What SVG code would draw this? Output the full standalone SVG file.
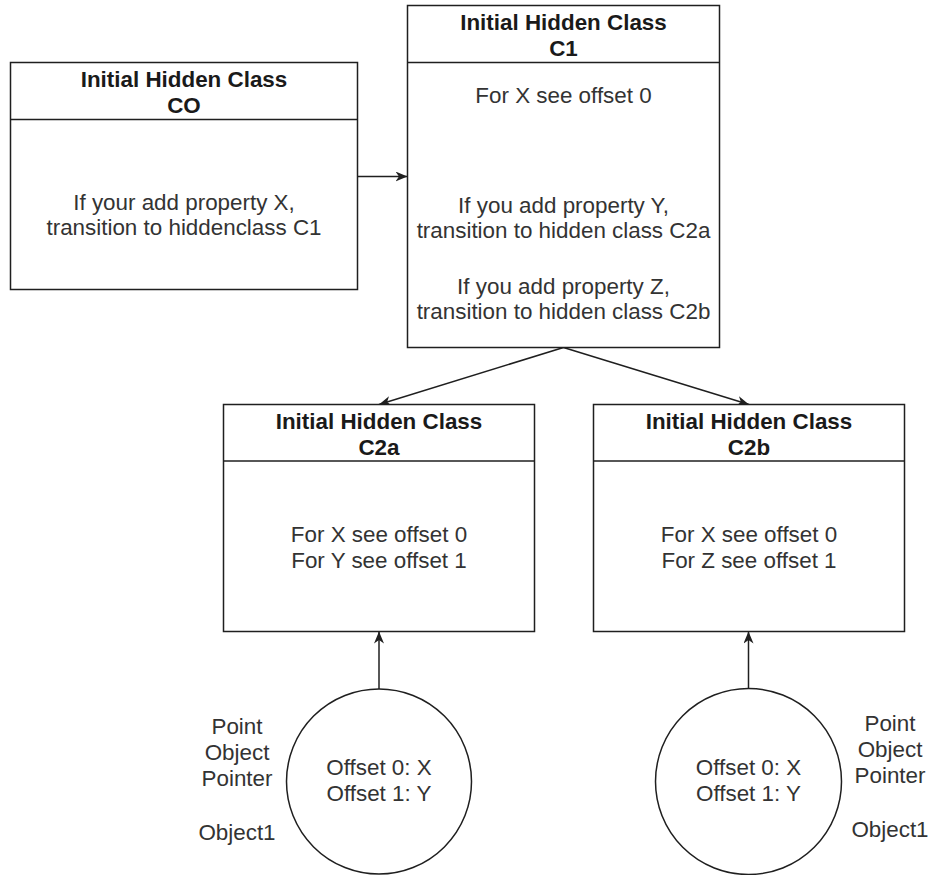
<svg xmlns="http://www.w3.org/2000/svg" width="930" height="875" viewBox="0 0 930 875">
  <style>
    .box { fill: #ffffff; stroke: #1f1f1f; stroke-width: 1.5; }
    .sep { stroke: #1f1f1f; stroke-width: 1.5; }
    .head { font-family: "Liberation Sans", Arial, sans-serif; font-size: 22.4px; font-weight: bold; fill: #1a1a1a; text-anchor: middle; }
    .body { font-family: "Liberation Sans", Arial, sans-serif; font-size: 22.4px; fill: #333333; text-anchor: middle; }
    .edge { fill: none; stroke: #1f1f1f; stroke-width: 1.5; }
  </style>
  <defs>
    <marker id="arrow" markerUnits="userSpaceOnUse" markerWidth="13" markerHeight="11" refX="12" refY="5" orient="auto">
      <path d="M0,0 L12,5 L0,10 L3.5,5 Z" fill="#1f1f1f"/>
    </marker>
  </defs>

  <rect width="930" height="875" fill="#ffffff"/>

  <!-- connectors -->
  <g id="connectors">
    <line class="edge" x1="357.5" y1="176.5" x2="407.5" y2="176.5" marker-end="url(#arrow)"/>
    <line class="edge" x1="563.5" y1="347.5" x2="379" y2="404.5" marker-end="url(#arrow)"/>
    <line class="edge" x1="563.5" y1="347.5" x2="749" y2="404.5" marker-end="url(#arrow)"/>
    <line class="edge" x1="379" y1="689" x2="379" y2="631.5" marker-end="url(#arrow)"/>
    <line class="edge" x1="748.5" y1="689" x2="748.5" y2="631.5" marker-end="url(#arrow)"/>
  </g>

  <!-- hidden class C0 -->
  <g id="class-c0">
    <rect class="box" x="10.5" y="62.5" width="347" height="227"/>
    <line class="sep" x1="10.5" y1="119.5" x2="357.5" y2="119.5"/>
    <text class="head" x="184" y="87">Initial Hidden Class</text>
    <text class="head" x="184" y="113">CO</text>
    <text class="body" x="184" y="210">If your add property X,</text>
    <text class="body" x="184" y="235">transition to hiddenclass C1</text>
  </g>

  <!-- hidden class C1 -->
  <g id="class-c1">
    <rect class="box" x="407.5" y="5.5" width="312" height="342"/>
    <line class="sep" x1="407.5" y1="62.5" x2="719.5" y2="62.5"/>
    <text class="head" x="563.5" y="30">Initial Hidden Class</text>
    <text class="head" x="563.5" y="56">C1</text>
    <text class="body" x="563.5" y="103">For X see offset 0</text>
    <text class="body" x="563.5" y="213">If you add property Y,</text>
    <text class="body" x="563.5" y="238">transition to hidden class C2a</text>
    <text class="body" x="563.5" y="294">If you add property Z,</text>
    <text class="body" x="563.5" y="319">transition to hidden class C2b</text>
  </g>

  <!-- hidden class C2a -->
  <g id="class-c2a">
    <rect class="box" x="223.5" y="404.5" width="311" height="227"/>
    <line class="sep" x1="223.5" y1="461" x2="534.5" y2="461"/>
    <text class="head" x="379" y="429">Initial Hidden Class</text>
    <text class="head" x="379" y="455">C2a</text>
    <text class="body" x="379" y="542">For X see offset 0</text>
    <text class="body" x="379" y="568">For Y see offset 1</text>
  </g>

  <!-- hidden class C2b -->
  <g id="class-c2b">
    <rect class="box" x="593.5" y="404.5" width="311" height="227"/>
    <line class="sep" x1="593.5" y1="461" x2="904.5" y2="461"/>
    <text class="head" x="749" y="429">Initial Hidden Class</text>
    <text class="head" x="749" y="455">C2b</text>
    <text class="body" x="749" y="542">For X see offset 0</text>
    <text class="body" x="749" y="568">For Z see offset 1</text>
  </g>

  <!-- object instance pointing at C2a -->
  <g id="object-a">
    <circle class="box" cx="379" cy="781.5" r="92.5"/>
    <text class="body" x="379" y="775">Offset 0: X</text>
    <text class="body" x="379" y="801">Offset 1: Y</text>
  </g>
  <g id="label-a">
    <text class="body" x="237" y="734">Point</text>
    <text class="body" x="237" y="760">Object</text>
    <text class="body" x="237" y="786">Pointer</text>
    <text class="body" x="237" y="840">Object1</text>
  </g>

  <!-- object instance pointing at C2b -->
  <g id="object-b">
    <circle class="box" cx="748.5" cy="781.5" r="93"/>
    <text class="body" x="748.5" y="775">Offset 0: X</text>
    <text class="body" x="748.5" y="801">Offset 1: Y</text>
  </g>
  <g id="label-b">
    <text class="body" x="890" y="731">Point</text>
    <text class="body" x="890" y="757">Object</text>
    <text class="body" x="890" y="783">Pointer</text>
    <text class="body" x="890" y="837">Object1</text>
  </g>
</svg>
